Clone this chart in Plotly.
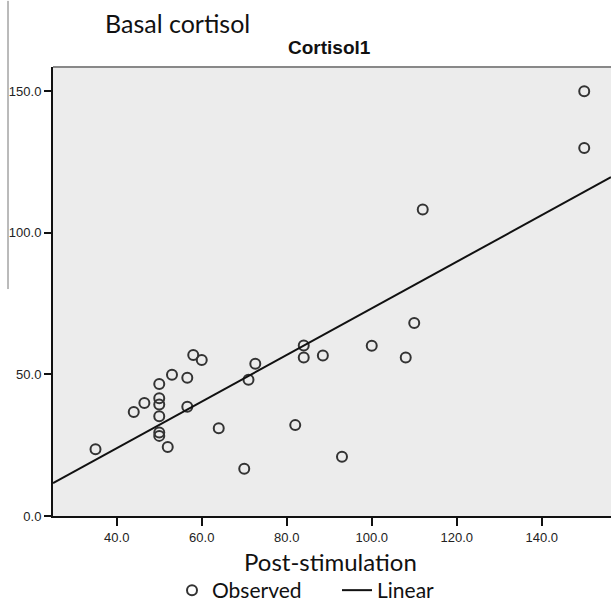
import numpy as np
import plotly.graph_objects as go

# Observed data (Post-stimulation vs Basal cortisol)
post_stim = [35, 58, 60, 72.6, 53, 56.6, 50, 71, 50, 50, 46.5, 44, 56.6, 50, 50, 50,
             64, 52, 70, 84, 84, 88.5, 100, 110, 108, 82, 93, 150, 150, 112]
basal = [23.6, 56.9, 55.1, 53.8, 49.9, 48.8, 46.6, 48.1, 41.6, 39.4, 39.9, 36.7, 38.6,
         35.2, 29.5, 28.3, 31.0, 24.4, 16.7, 60.2, 56.0, 56.7, 60.1, 68.2, 56.0, 32.1,
         20.9, 150.0, 130.0, 108.3]

x_ticks = [40, 60, 80, 100, 120, 140]
y_ticks = [0, 50, 100, 150]
x_range = [25, 156.3]
y_range = [0, 158.6]

# Linear fit from the observed data
slope, intercept = np.polyfit(post_stim, basal, 1)
fit_x = np.array(x_range)
fit_y = intercept + slope * fit_x

W, H = 611, 611
L, R, T, B = 53, 0, 67, 89
PW, PH = W - L - R, H - T - B


def px(x):
    return (x - L) / PW


def py(y):
    return (H - B - y) / PH


fig = go.Figure()
fig.add_trace(go.Scatter(
    x=post_stim, y=basal, mode="markers", name="Observed",
    marker=dict(symbol="circle-open", size=10, color="#333333", line=dict(width=2, color="#333333")),
))
fig.add_trace(go.Scatter(
    x=fit_x, y=fit_y, mode="lines", name="Linear",
    line=dict(color="#111111", width=2),
))

tickfont = dict(size=13, family="Arial, Liberation Sans, sans-serif", color="#222222")
fig.update_layout(
    width=W, height=H,
    margin=dict(l=L, r=R, t=T, b=B),
    paper_bgcolor="white",
    plot_bgcolor="#ececec",
    font=dict(family="Arial, Liberation Sans, sans-serif", color="#222222"),
    showlegend=True,
    legend=dict(orientation="h", x=px(172), xanchor="left", y=py(598), yanchor="middle",
                font=dict(family="Lato, sans-serif", size=21, color="#111111"),
                bgcolor="rgba(0,0,0,0)", tracegroupgap=0,
                entrywidth=120, entrywidthmode="pixels"),
    xaxis=dict(range=x_range, tickvals=x_ticks, ticktext=[f"{v:.1f}" for v in x_ticks],
               showgrid=False, zeroline=False, showline=True, linecolor="#111111", linewidth=2,
               ticks="outside", ticklen=8, tickwidth=2, tickcolor="#111111", tickfont=tickfont),
    yaxis=dict(range=y_range, tickvals=y_ticks, ticktext=[f"{v:.1f}" for v in y_ticks],
               showgrid=False, zeroline=False, showline=True, linecolor="#111111", linewidth=2,
               ticks="outside", ticklen=7, tickwidth=2, tickcolor="#111111", tickfont=tickfont),
    shapes=[
        dict(type="line", xref="paper", yref="paper", x0=0, x1=1, y0=1, y1=1,
             line=dict(color="#888888", width=2)),
        dict(type="line", xref="paper", yref="paper", x0=px(8), x1=px(8), y0=py(292), y1=py(0),
             line=dict(color="#777777", width=1)),
    ],
    annotations=[
        dict(text="Basal cortisol", xref="paper", yref="paper", x=px(103), y=py(22),
             xanchor="left", yanchor="middle", showarrow=False,
             font=dict(family="Lato, sans-serif", size=25, color="#111111")),
        dict(text="<b>Cortisol1</b>", xref="paper", yref="paper", x=px(329), y=py(47),
             xanchor="center", yanchor="middle", showarrow=False,
             font=dict(family="Arial, Liberation Sans, sans-serif", size=19, color="#111111")),
        dict(text="Post-stimulation", xref="paper", yref="paper", x=px(330), y=py(568),
             xanchor="center", yanchor="middle", showarrow=False,
             font=dict(family="Lato, sans-serif", size=24, color="#111111")),
    ],
)

fig.write_html("out.html", config={"displayModeBar": False},
               post_script="document.body.style.margin='0px';")
